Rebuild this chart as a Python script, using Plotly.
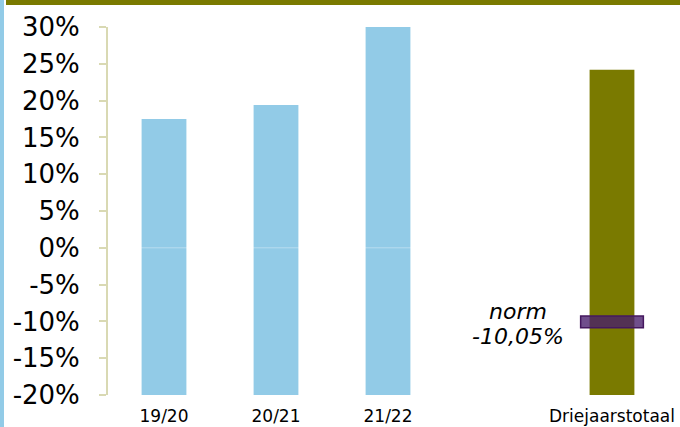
import plotly.graph_objects as go

categories = ["19/20", "20/21", "21/22", "", "Driejaarstotaal"]
blue_cats = ["19/20", "20/21", "21/22"]
blue_values = [17.5, 19.4, 30.1]
total_cat = ["Driejaarstotaal"]
total_values = [24.2]
norm_value = -10.05
norm_lines = ["<i>norm</i>", "<i>-10,05%</i>"]
y_ticks = [-20, -15, -10, -5, 0, 5, 10, 15, 20, 25, 30]
y_base = -20

BLUE = "#92cbe7"
OLIVE = "#7a7a00"
AXIS = "#d9d9b3"
FONT = "DejaVu Sans"

L, R, T, B = 108, 12, 27, 32
PW, PH = 680 - L - R, 427 - T - B

fig = go.Figure()
fig.add_trace(go.Bar(
    x=blue_cats, y=[v - y_base for v in blue_values], base=y_base,
    marker=dict(color=BLUE, line=dict(width=0)), width=0.4, hoverinfo="skip"))
fig.add_trace(go.Bar(
    x=total_cat, y=[v - y_base for v in total_values], base=y_base,
    marker=dict(color=OLIVE, line=dict(width=0)), width=0.4, hoverinfo="skip"))
fig.add_trace(go.Bar(
    x=total_cat, y=[1.6], base=norm_value - 0.8,
    marker=dict(color="rgba(72,28,108,0.78)", line=dict(color="#45185f", width=1.5)),
    width=0.56, hoverinfo="skip"))

# faint line at 0 inside the blue bars
fig.add_shape(type="line", xref="x", yref="y", x0=-0.5, x1=2.5, y0=0, y1=0,
              line=dict(color="rgba(255,255,255,0.35)", width=1), layer="above")

for txt, shift in zip(norm_lines, [10, -15]):
    fig.add_annotation(x=3.16, y=norm_value, yshift=shift, xref="x", yref="y", text=txt,
                       showarrow=False, font=dict(family=FONT, size=22, color="#000"),
                       align="center")

# decorative border strips
fig.add_shape(type="rect", xref="paper", yref="paper", x0=-L/PW, x1=-(L - 4)/PW,
              y0=-B/PH, y1=1 + T/PH, fillcolor=BLUE, line=dict(width=0))
fig.add_shape(type="rect", xref="paper", yref="paper", x0=-(L - 6)/PW, x1=1 + R/PW,
              y0=1 + (T - 5)/PH, y1=1 + T/PH, fillcolor=OLIVE, line=dict(width=0))

fig.update_layout(
    width=680, height=427,
    margin=dict(l=L, r=R, t=T, b=B, autoexpand=False),
    barmode="overlay", showlegend=False,
    plot_bgcolor="white", paper_bgcolor="white",
    xaxis=dict(type="category", categoryorder="array", categoryarray=categories,
               range=[-0.5, 4.5], showline=False, showgrid=False, zeroline=False,
               ticks="", tickfont=dict(family=FONT, size=17, color="#000"),
               ticklabelstandoff=9, automargin=False),
    yaxis=dict(range=[-20, 30], tickvals=y_ticks,
               ticktext=[f"{v}%" for v in y_ticks],
               showline=True, linecolor=AXIS, linewidth=2,
               ticks="outside", ticklen=7, tickcolor=AXIS, tickwidth=2,
               showgrid=False, zeroline=False, automargin=False,
               tickfont=dict(family=FONT, size=26, color="#000"),
               ticklabelstandoff=14),
)

fig.write_html("out.html", config={"displayModeBar": False, "staticPlot": True},
               post_script="document.body.style.margin='0';document.body.style.overflow='hidden';")
